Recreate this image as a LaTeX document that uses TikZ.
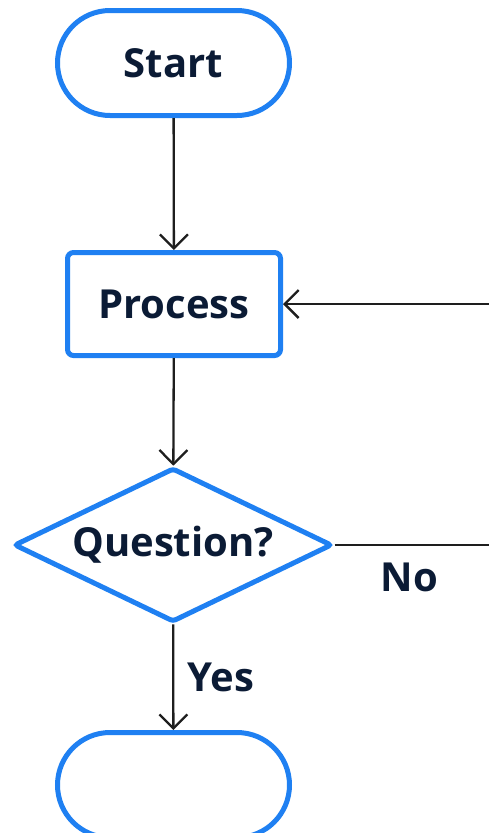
\documentclass[tikz,border=0pt]{standalone}
\usepackage{fontspec}
\setmainfont{Open Sans}
\usetikzlibrary{arrows.meta,positioning,shapes.geometric,shapes.misc}
\definecolor{flowblue}{HTML}{1F80F2}
\definecolor{flowink}{HTML}{0B1B35}
\definecolor{flowline}{HTML}{1E1E1E}

\begin{document}
\begin{tikzpicture}[
  x=1pt, y=1pt,
  font=\bfseries\fontsize{40}{48}\selectfont, text=flowink,
  term/.style={draw=flowblue, line width=5pt, rounded rectangle, fill=white,
               minimum width=232pt, minimum height=105pt, inner sep=0pt},
  proc/.style={draw=flowblue, line width=5pt, rounded corners=6pt, fill=white,
               minimum width=213pt, minimum height=103pt, inner sep=0pt},
  ask/.style={draw=flowblue, line width=5pt, diamond, shape aspect=2.1, rounded corners=3pt,
              fill=white, minimum width=318pt, minimum height=154pt, inner sep=0pt},
  link/.style={draw=flowline, line width=2.3pt, -{Straight Barb[length=14pt,width=28pt,line width=2.3pt]}},
  plain/.style={draw=flowline, line width=2.3pt}
]
\useasboundingbox (0,0) rectangle (488,-833);
\node[term] (start) at (173.5,-63) {Start};
\node[proc] (process) at (174,-304) {Process};
\node[ask] (question) at (173,-545) {Question?};
\node[term] (finish) at (173.5,-785) {};
\coordinate (noend) at (490,-545);
\coordinate (backin) at (490,-304);
\draw[link] (start) -- (process);
\draw[link] (process) -- (question);
\draw[link] (question) -- node[right=10pt] {Yes} (finish);
\draw[plain] (question.east) -- node[below=13pt, xshift=-3pt] {No} (noend);
\draw[link] (backin) -- (process.east);
\end{tikzpicture}
\end{document}
